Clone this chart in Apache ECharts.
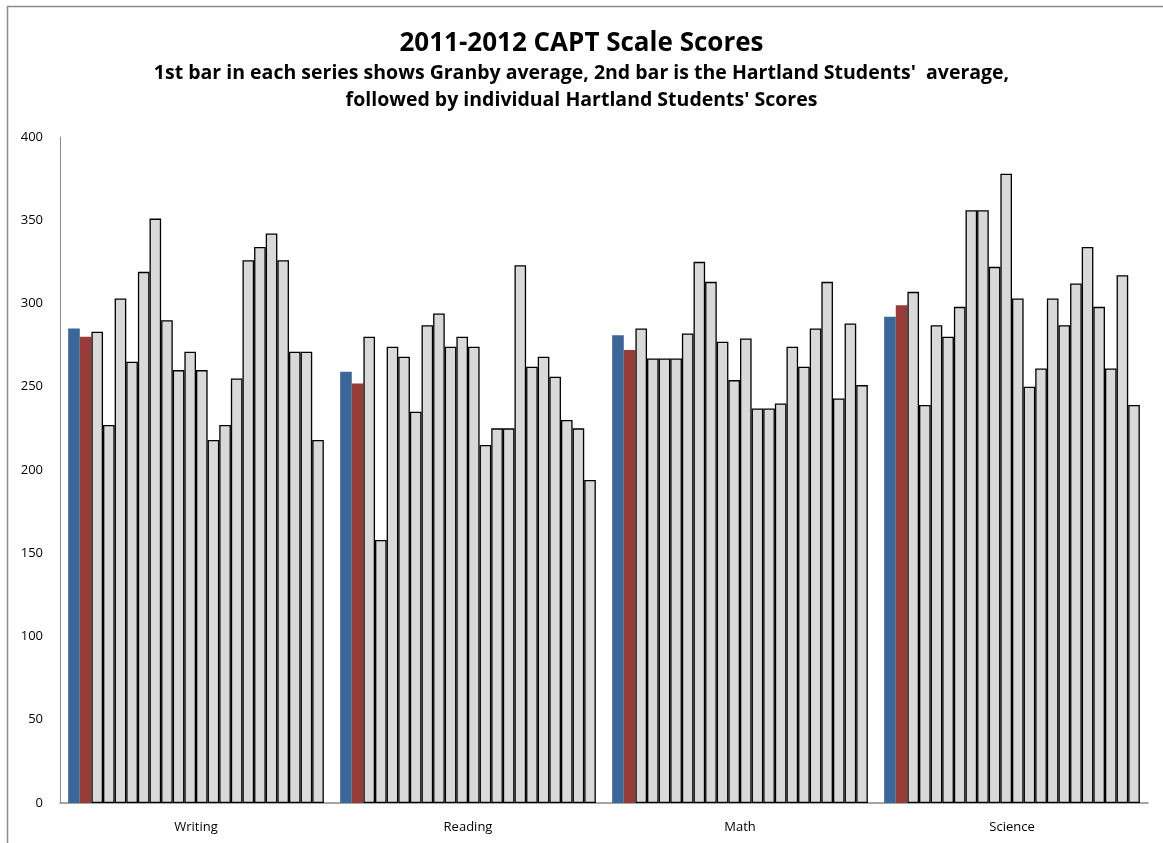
<!DOCTYPE html>
<html>
<head>
<meta charset="utf-8">
<script src="https://cdn.jsdelivr.net/npm/echarts@6/dist/echarts.min.js"></script>
<style>
html,body{margin:0;padding:0;background:#fff;}
#chart{width:1163px;height:843px;}
</style>
</head>
<body>
<div id="chart"></div>
<script>
const categories = ['Writing', 'Reading', 'Math', 'Science'];
const yTicks = [0, 50, 100, 150, 200, 250, 300, 350, 400];
const granbyAvg = [285, 259, 281, 292];
const hartlandAvg = [280, 252, 272, 299];
const writingScores = [283, 227, 303, 265, 319, 351, 290, 260, 271, 260, 218, 227, 255, 326, 334, 342, 326, 271, 271, 218];
const readingScores = [280, 158, 274, 268, 235, 287, 294, 274, 280, 274, 215, 225, 225, 323, 262, 268, 256, 230, 225, 194];
const mathScores    = [285, 267, 267, 267, 282, 325, 313, 277, 254, 279, 237, 237, 240, 274, 262, 285, 313, 243, 288, 251];
const scienceScores = [307, 239, 287, 280, 298, 356, 356, 322, 378, 303, 250, 261, 303, 287, 312, 334, 298, 261, 317, 239];

const series = [
  {name: 'Granby average', type: 'bar', data: granbyAvg, barGap: '0%', barCategoryGap: '6%',
   itemStyle: {color: '#3d6698'}},
  {name: 'Hartland average', type: 'bar', data: hartlandAvg, barGap: '0%', barCategoryGap: '6%',
   itemStyle: {color: '#983c3b'}}
];
for (let i = 0; i < writingScores.length; i++) {
  series.push({
    name: 'Student ' + (i + 1), type: 'bar', barGap: '0%', barCategoryGap: '6%',
    data: [writingScores[i], readingScores[i], mathScores[i], scienceScores[i]],
    itemStyle: {color: '#d9d9d9', borderColor: '#000', borderWidth: 1.3}
  });
}

const subStyle = {fontFamily: 'Open Sans', fontWeight: 'bold', fontSize: 19.5, color: '#000'};
const chart = echarts.init(document.getElementById('chart'), null, {renderer: 'canvas'});
chart.setOption({
  animation: false,
  backgroundColor: '#fff',
  title: [
    {text: '2011-2012 CAPT Scale Scores', left: 'center', top: 26,
     textStyle: {fontFamily: 'Open Sans', fontWeight: 'bold', fontSize: 26, color: '#000'}},
    {text: "1st bar in each series shows Granby average, 2nd bar is the Hartland Students'  average,",
     left: 'center', top: 58, textStyle: subStyle},
    {text: "followed by individual Hartland Students' Scores",
     left: 'center', top: 85, textStyle: subStyle}
  ],
  graphic: [
    {type: 'rect', shape: {x: 7.5, y: 6.5, width: 1200, height: 900}, z: -1,
     style: {fill: 'none', stroke: '#8c8c8c', lineWidth: 1.5}}
  ],
  grid: {left: 60, right: 15, top: 137, bottom: 40},
  xAxis: {
    type: 'category', data: categories,
    axisLine: {show: true, lineStyle: {color: '#888', width: 1.5}},
    axisTick: {show: false},
    axisLabel: {color: '#000', fontSize: 13, fontFamily: 'Open Sans', margin: 18}
  },
  yAxis: {
    type: 'value', min: yTicks[0], max: yTicks[yTicks.length - 1], interval: 50,
    axisLine: {show: true, lineStyle: {color: '#888', width: 1}},
    axisTick: {show: false},
    splitLine: {show: false},
    axisLabel: {color: '#000', fontSize: 13, fontFamily: 'Open Sans', margin: 17}
  },
  series: series
});
</script>
</body>
</html>
